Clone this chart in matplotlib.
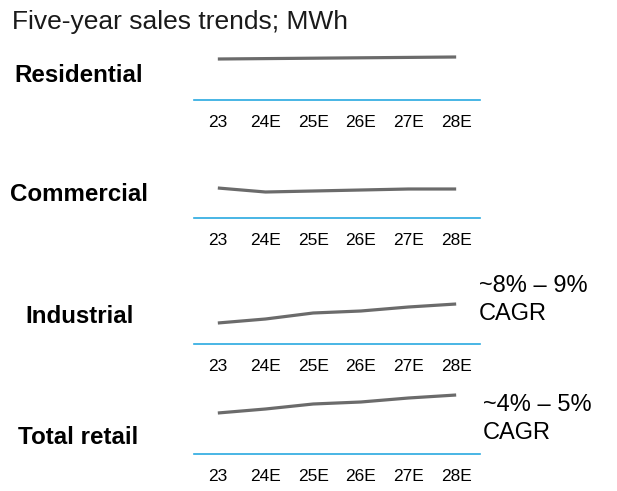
import numpy as np
import matplotlib.pyplot as plt

plt.rcParams["font.family"] = ["Liberation Sans", "DejaVu Sans"]

# years on the x axis
years = ["23", "24E", "25E", "26E", "27E", "28E"]

# sales, indexed (same scale in every panel)
residential = [41, 41.4, 41.8, 42.2, 42.6, 43]
commercial = [30, 26, 27, 28, 29, 29]
industrial = [21, 25, 31, 33, 37, 40]
total_retail = [41, 45, 50, 52, 56, 59]

segments = ["Residential", "Commercial", "Industrial", "Total retail"]
cagr_labels = [None, None, "~8% – 9%\nCAGR", "~4% – 5%\nCAGR"]

W, H = 617, 491
fig = plt.figure(figsize=(W / 100, H / 100), dpi=100)

# panel layout in pixels: baseline y, label x, label y, cagr x, cagr y
baselines = [100, 218, 344, 454]
label_pos = [(14, 75.5), (10, 194.5), (25, 316.5), (18, 437.5)]
cagr_pos = [None, None, (479, 300), (483, 419)]

x = np.arange(len(years))
panel_h = 70
for series, base, name, (lx, ly), cagr, cp in zip(
        [residential, commercial, industrial, total_retail],
        baselines, segments, label_pos, cagr_labels, cagr_pos):
    ax = fig.add_axes([194 / W, 1 - base / H, 286 / W, panel_h / H])
    ax.plot(x, series, color="#6b6b6b", linewidth=2.3, solid_capstyle="butt")
    ax.set_xlim(-0.5, 5.5)
    ax.set_ylim(0, panel_h)
    for s in ["top", "right", "left"]:
        ax.spines[s].set_visible(False)
    ax.spines["bottom"].set_color("#29a9e0")
    ax.spines["bottom"].set_linewidth(1.2)
    ax.set_yticks([])
    ax.set_xticks(x)
    ax.set_xticklabels(years, fontsize=12.5)
    ax.tick_params(axis="x", length=0, pad=10.5)

    fig.text(lx / W, 1 - ly / H, name, fontsize=17.4, fontweight="bold",
             ha="left", va="center")
    if cagr:
        fig.text(cp[0] / W, 1 - cp[1] / H, cagr, fontsize=17,
                 ha="left", va="center", linespacing=1.3)

fig.text(12 / W, 1 - 22 / H, "Five-year sales trends; MWh", fontsize=19,
         color="#1a1a1a", ha="left", va="center")

plt.savefig("out.png", dpi=100)
